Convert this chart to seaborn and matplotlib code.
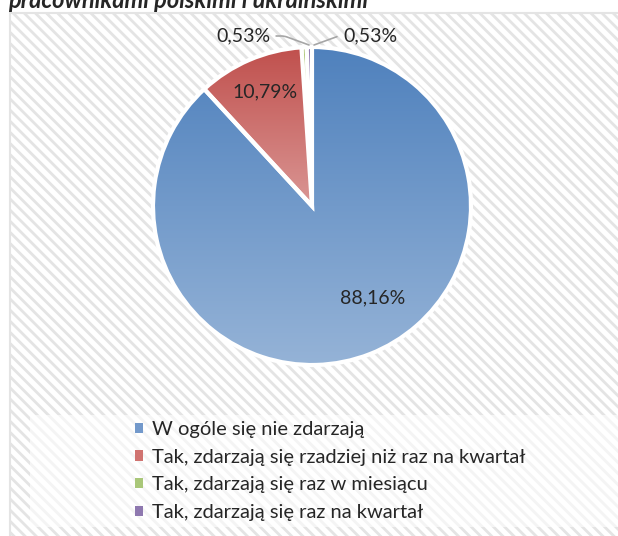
import numpy as np
import matplotlib
matplotlib.use("Agg")
import matplotlib.pyplot as plt
import seaborn as sns
from matplotlib.patches import Rectangle, Patch
from matplotlib.colors import LinearSegmentedColormap

categories = ['W ogóle się nie zdarzają',
              'Tak, zdarzają się rzadziej niż raz na kwartał',
              'Tak, zdarzają się raz w miesiącu',
              'Tak, zdarzają się raz na kwartał']
values = [88.16, 10.79, 0.53, 0.53]
labels = ['88,16%', '10,79%', '0,53%', '0,53%']
title = 'pracownikami polskimi i ukraińskimi'

sns.set_style("white")
plt.rcParams['font.family'] = ['Lato', 'DejaVu Sans']
plt.rcParams['hatch.linewidth'] = 2.0

W, H = 618, 536
fig = plt.figure(figsize=(W / 100, H / 100), dpi=100)
fig.patch.set_facecolor('white')

# chart area with diagonal stripes
bg = Rectangle((9.5 / W, -0.1), 1.2, 1.1 - 12.5 / H, transform=fig.transFigure,
               facecolor='white', edgecolor='#e4e4e4', hatch='\\\\\\', lw=1.5, zorder=-2)
fig.patches.append(bg)
# legend area, lighter
lg = Rectangle((30 / W, (H - 527) / H), 1.0, 112 / H, transform=fig.transFigure,
               facecolor='white', alpha=0.6, edgecolor='none', zorder=-1)
fig.patches.append(lg)

fig.text(8 / W, 1 - 8 / H, title, fontsize=17, fontweight='bold', fontstyle='italic',
         ha='left', va='baseline')

ax = fig.add_axes([0, 0, 1, 1])
ax.patch.set_alpha(0)
cx, cy, r = 312, H - 206, 159
wedges, _ = ax.pie(values, startangle=90, counterclock=False, center=(cx, cy), radius=r,
                   colors=['#4F81BD', '#C0504D', '#9BBB59', '#8064A2'],
                   wedgeprops=dict(edgecolor='white', linewidth=3))
ax.axis('off')

grads = [('#4F81BD', '#95B3D7', (cx - r, cx + r, cy - r, cy + r)),
         ('#C0504D', '#DA9694', (cx - r, cx + r, cy, cy + r))]
grad = np.linspace(0, 1, 256).reshape(-1, 1)
for w, (c1, c2, ext) in zip(wedges[:2], grads):
    cmap = LinearSegmentedColormap.from_list('g', [c1, c2])
    im = ax.imshow(grad, cmap=cmap, extent=ext, origin='upper', aspect='auto', zorder=1)
    im.set_clip_path(w)
    w.set_facecolor('none')
    w.set_zorder(2)
ax.set_xlim(0, W)
ax.set_ylim(0, H)
ax.set_aspect('auto')

# data labels
ax.text(cx + 61, cy - 92, labels[0], fontsize=14, ha='center', va='center', zorder=3)
ax.text(cx - 47, cy + 114, labels[1], fontsize=14, ha='center', va='center', zorder=3)
ax.annotate(labels[2], xy=(cx - 3, cy + r + 2), xytext=(cx - 69, cy + 170),
            fontsize=14, ha='center', va='center',
            arrowprops=dict(arrowstyle='-', color='#a6a6a6', lw=1.2, shrinkA=2, shrinkB=0,
                            connectionstyle='angle,angleA=0,angleB=160,rad=3'))
ax.annotate(labels[3], xy=(cx + 2, cy + r + 2), xytext=(cx + 58, cy + 170),
            fontsize=14, ha='center', va='center',
            arrowprops=dict(arrowstyle='-', color='#a6a6a6', lw=1.2, shrinkA=2, shrinkB=0,
                            connectionstyle='angle,angleA=0,angleB=20,rad=3'))

handles = [Patch(facecolor=c, edgecolor='none') for c in ['#7399CB', '#D07370', '#A9C779', '#8E78AF']]
fig.legend(handles, categories, loc='upper left', bbox_to_anchor=(135 / W, 1 - 421 / H),
           frameon=False, fontsize=14.5, handlelength=0.4, handleheight=0.4,
           handletextpad=0.45, labelspacing=0.53, borderaxespad=0, borderpad=0)

fig.savefig('out.png', dpi=100)
